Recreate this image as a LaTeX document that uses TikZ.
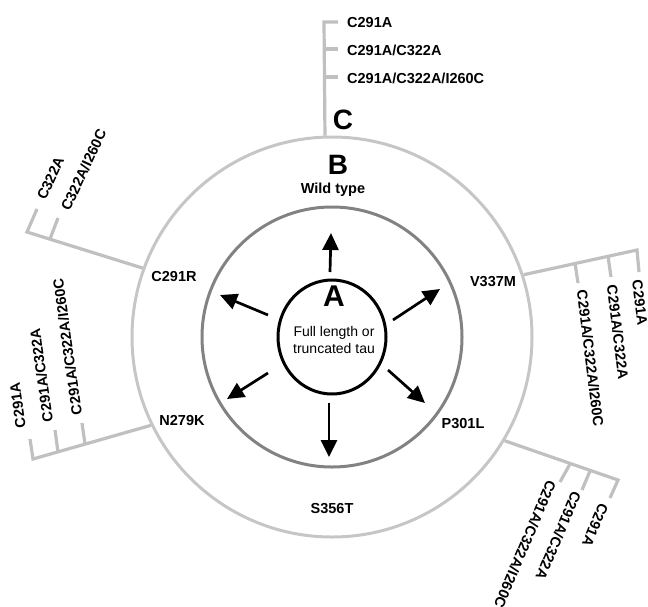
\documentclass[tikz,border=0pt]{standalone}
\usepackage{fontspec}
\setmainfont{Liberation Sans}
\usetikzlibrary{arrows.meta,shapes.geometric}
\definecolor{ringlight}{HTML}{C6C6C6}
\definecolor{ringdark}{HTML}{828282}
\definecolor{branchgray}{HTML}{C0C0C0}
\begin{document}
\begin{tikzpicture}[x=1pt,y=-1pt,
  lbl/.style={font=\fontsize{14.5}{16}\selectfont\bfseries, inner sep=0pt},
  mut/.style={lbl, anchor=west},
  big/.style={font=\fontsize{28}{30}\selectfont\bfseries, inner sep=0pt},
  branch/.style={draw=branchgray, line width=3.2pt},
  arr/.style={line width=2.7pt, -{Triangle[length=17pt,width=16pt]}},
]
\useasboundingbox (0,0) rectangle (648,606);
\clip (0,0) rectangle (648,606);

% rings
\node[circle, draw=ringlight, line width=3pt, minimum size=400pt, inner sep=0pt] (outer) at (332,337) {};
\node[circle, draw=ringdark, line width=3pt, minimum size=260pt, inner sep=0pt] (inner) at (332,337) {};
\node[ellipse, draw=black, line width=3pt, minimum width=108pt, minimum height=114pt, inner sep=0pt] (core) at (332,337) {};

% centre texts
\node[font=\fontsize{30}{32}\selectfont\bfseries, inner sep=0pt] (labA) at (334,296) {A};
\node[font=\fontsize{14}{17}\selectfont, align=center, inner sep=0pt] (tau) at (334,340) {Full length or\\truncated tau};
\node[big] (labB) at (338,165) {B};
\node[lbl] (wild) at (333,190) {Wild type};
\node[big] (labC) at (343,120) {C};

% mutation labels
\node[lbl] (C291R) at (174,277) {C291R};
\node[lbl] (N279K) at (182,420) {N279K};
\node[lbl] (V337M) at (493,282) {V337M};
\node[lbl] (P301L) at (463,424) {P301L};
\node[lbl] (S356T) at (332,509) {S356T};

% arrows
\coordinate (a1s) at (330,272); \coordinate (a1e) at (331,233);
\coordinate (a2s) at (268,315); \coordinate (a2e) at (220,295);
\coordinate (a3s) at (393,320); \coordinate (a3e) at (440,289);
\coordinate (a4s) at (268,373); \coordinate (a4e) at (227,399);
\coordinate (a5s) at (388,370); \coordinate (a5e) at (425,403);
\coordinate (a6s) at (329,403); \coordinate (a6e) at (329,457);
\foreach \i in {1,...,6} \draw[arr] (a\i s) -- (a\i e);

% ---- top branch (C)
\coordinate (Ct1) at (324,22); \coordinate (Ct2) at (324,49); \coordinate (Ct3) at (324,77);
\coordinate (Ce1) at (338,22); \coordinate (Ce2) at (338,49); \coordinate (Ce3) at (338,77);
\draw[branch] (Ce1) -- (Ct1) -- (outer.92.3);
\draw[branch] (Ct2) -- (Ce2);
\draw[branch] (Ct3) -- (Ce3);
\node[mut] (Cl1) at (347,23) {C291A};
\node[mut] (Cl2) at (347,50) {C291A/C322A};
\node[mut] (Cl3) at (347,78) {C291A/C322A/I260C};

% ---- C291R branch
\coordinate (Rb1) at (27,232); \coordinate (Rb2) at (50,239);
\coordinate (Re1) at (37,209); \coordinate (Re2) at (58,218);
\draw[branch] (Re1) -- (Rb1) -- (outer.160.3);
\draw[branch] (Rb2) -- (Re2);
\node[mut, rotate=65] (Rl1) at (41,199) {C322A};
\node[mut, rotate=65] (Rl2) at (65,210) {C322A/I260C};

% ---- N279K branch
\coordinate (Nb1) at (33,459); \coordinate (Nb2) at (58,452); \coordinate (Nb3) at (85,444);
\coordinate (Ne1) at (30,439); \coordinate (Ne2) at (55,430); \coordinate (Ne3) at (82,423);
\draw[branch] (Ne1) -- (Nb1) -- (outer.206);
\draw[branch] (Nb2) -- (Ne2);
\draw[branch] (Nb3) -- (Ne3);
\node[mut, rotate=98] (Nl1) at (21,428) {C291A};
\node[mut, rotate=98] (Nl2) at (48,422) {C291A/C322A};
\node[mut, rotate=98] (Nl3) at (77,415) {C291A/C322A/I260C};

% ---- V337M branch
\coordinate (Vb1) at (637,250); \coordinate (Vb2) at (608,256); \coordinate (Vb3) at (575,263);
\coordinate (Ve1) at (639,272); \coordinate (Ve2) at (611,277); \coordinate (Ve3) at (578,283);
\draw[branch] (Ve1) -- (Vb1) -- (outer.18.3);
\draw[branch] (Vb2) -- (Ve2);
\draw[branch] (Vb3) -- (Ve3);
\node[mut, rotate=-83] (Vl1) at (637,280) {C291A};
\node[mut, rotate=-83] (Vl2) at (612,285) {C291A/C322A};
\node[mut, rotate=-83] (Vl3) at (582,290) {C291A/C322A/I260C};

% ---- P301L branch
\coordinate (Pb1) at (618,480); \coordinate (Pb2) at (590,471); \coordinate (Pb3) at (570,464);
\coordinate (Pe1) at (610,498); \coordinate (Pe2) at (582,490); \coordinate (Pe3) at (560,482);
\draw[branch] (Pe1) -- (Pb1) -- (outer.-31.5);
\draw[branch] (Pb2) -- (Pe2);
\draw[branch] (Pb3) -- (Pe3);
\node[mut, rotate=-113] (Pl1) at (604,504) {C291A};
\node[mut, rotate=-113] (Pl2) at (577,492) {C291A/C322A};
\node[mut, rotate=-113] (Pl3) at (552,481) {C291A/C322A/I260C};
\end{tikzpicture}
\end{document}
